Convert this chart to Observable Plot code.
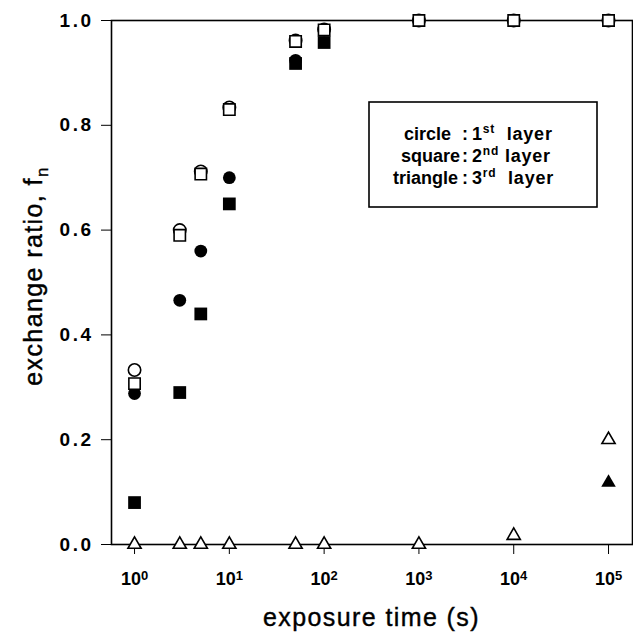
<!DOCTYPE html>
<html>
<head>
<meta charset="utf-8">
<script src="https://cdn.jsdelivr.net/npm/d3@7"></script>
<script src="https://cdn.jsdelivr.net/npm/@observablehq/plot@0.6"></script>
<style>
  html, body { margin: 0; padding: 0; background: #fff; }
  #chart { width: 633px; height: 633px; }
</style>
</head>
<body>
<div id="chart"></div>
<script>
// ---- data ----
const openCircleT  = [1, 3, 5, 10, 50, 100, 1000, 10000, 100000];
const openCircleF  = [0.333, 0.600, 0.712, 0.834, 0.962, 0.983, 1.0, 1.0, 1.0];
const openSquareT  = [1, 3, 5, 10, 50, 100, 1000, 10000, 100000];
const openSquareF  = [0.307, 0.590, 0.707, 0.830, 0.960, 0.982, 1.0, 1.0, 1.0];
const filledCircleT = [1, 3, 5, 10, 50];
const filledCircleF = [0.288, 0.466, 0.560, 0.700, 0.924];
const filledSquareT = [1, 3, 5, 10, 50, 100];
const filledSquareF = [0.080, 0.290, 0.440, 0.650, 0.918, 0.958];
const openTriangleT = [1, 3, 5, 10, 50, 100, 1000, 10000, 100000];
const openTriangleF = [0, 0, 0, 0, 0, 0, 0, 0.017, 0.200];
const filledTriangleT = [100000];
const filledTriangleF = [0.118];

const xTicks = [1, 10, 100, 1000, 10000, 100000];
const yTicks = [0, 0.2, 0.4, 0.6, 0.8, 1.0];
const xLabel = "exposure time (s)";
const yLabelMain = "exchange ratio, f";
const yLabelSub = "n";
const legendNames = ["circle", "square", "triangle"];
const legendNums = ["1", "2", "3"];
const legendSups = ["st", "nd", "rd"];

const toRows = (ts, fs) => ts.map((t, i) => ({t, f: fs[i]}));

const FONT = "'Liberation Sans', Arial, Helvetica, sans-serif";

const plot = Plot.plot({
  width: 633,
  height: 633,
  marginLeft: 111,
  marginRight: 1,
  marginTop: 20,
  marginBottom: 89,
  style: {fontFamily: FONT, fontSize: "18px", fontWeight: "bold", color: "black", background: "white"},
  x: {type: "log", domain: [Math.pow(10, -0.243), Math.pow(10, 5.253)], ticks: xTicks,
      tickSize: 10, tickPadding: 18, tickFormat: d => String(Math.round(Math.log10(d))), label: null},
  y: {domain: [0, 1], ticks: yTicks, tickSize: 10, tickPadding: 8,
      tickFormat: d3.format(".1f"), label: null},
  marks: [
    Plot.frame({stroke: "black", strokeWidth: 1.6}),
    Plot.dot(toRows(filledSquareT, filledSquareF), {x: "t", y: "f", symbol: "square", r: 7.2, fill: "black", stroke: "none"}),
    Plot.dot(toRows(filledCircleT, filledCircleF), {x: "t", y: "f", symbol: "circle", r: 6.4, fill: "black", stroke: "none"}),
    Plot.dot(toRows(openCircleT, openCircleF), {x: "t", y: "f", symbol: "circle", r: 6.2, fill: "white", stroke: "black", strokeWidth: 1.6}),
    Plot.dot(toRows(openSquareT, openSquareF), {x: "t", y: "f", symbol: "square", r: 6.4, fill: "white", stroke: "black", strokeWidth: 1.6}),
    Plot.dot(toRows(openTriangleT, openTriangleF), {x: "t", y: "f", symbol: "triangle", r: 4.9, fill: "white", stroke: "black", strokeWidth: 1.6}),
    Plot.dot(toRows(filledTriangleT, filledTriangleF), {x: "t", y: "f", symbol: "triangle", r: 5.4, fill: "black", stroke: "none"})
  ]
});

document.getElementById("chart").appendChild(plot);

const svg = d3.select(plot);

// x tick labels as 10^k with real superscripts
svg.selectAll('g[aria-label="x-axis tick label"] text').each(function() {
  const t = d3.select(this);
  const k = t.text();
  t.text(null);
  t.append("tspan").text("10");
  t.append("tspan").attr("dy", "-0.42em").attr("font-size", "13px").text(k);
});
svg.selectAll('g[aria-label="y-axis tick label"] text')
  .attr("font-size", "19px").attr("letter-spacing", "2.5px");

// axis titles
svg.append("text")
  .attr("x", 371.5).attr("y", 626)
  .attr("text-anchor", "middle")
  .attr("font-family", FONT).attr("font-size", "25px").attr("font-weight", "normal")
  .attr("letter-spacing", "1.4px").attr("fill", "black")
  .attr("stroke", "black").attr("stroke-width", 0.4)
  .text(xLabel);

const yl = svg.append("text")
  .attr("transform", "translate(42,276) rotate(-90)")
  .attr("text-anchor", "middle")
  .attr("font-family", FONT).attr("font-size", "25px").attr("font-weight", "normal")
  .attr("letter-spacing", "1.4px").attr("fill", "black")
  .attr("stroke", "black").attr("stroke-width", 0.4);
yl.append("tspan").text(yLabelMain);
yl.append("tspan").attr("dy", "6").attr("font-size", "17px").text(yLabelSub);

// legend box
const lg = svg.append("g").attr("font-family", FONT).attr("font-size", "18px").attr("font-weight", "bold").attr("fill", "black");
lg.append("rect").attr("x", 369).attr("y", 102).attr("width", 228).attr("height", 105)
  .attr("fill", "white").attr("stroke", "black").attr("stroke-width", 1.6);
const baselines = [140, 162, 184];
const nameEnds = [451, 460, 458];
legendNames.forEach((name, i) => {
  lg.append("text").attr("x", nameEnds[i]).attr("y", baselines[i]).attr("text-anchor", "end").text(name);
  lg.append("text").attr("x", 465).attr("y", baselines[i]).attr("text-anchor", "middle").text(":");
  const t = lg.append("text").attr("x", 472).attr("y", baselines[i]).attr("text-anchor", "start")
    .attr("letter-spacing", "0.8px").style("white-space", "pre");
  t.append("tspan").text(legendNums[i]);
  t.append("tspan").attr("dy", "-7").attr("font-size", "12px").text(legendSups[i]);
  t.append("tspan").attr("dy", "7").text(i === 1 ? " layer" : "  layer");
});
</script>
</body>
</html>
